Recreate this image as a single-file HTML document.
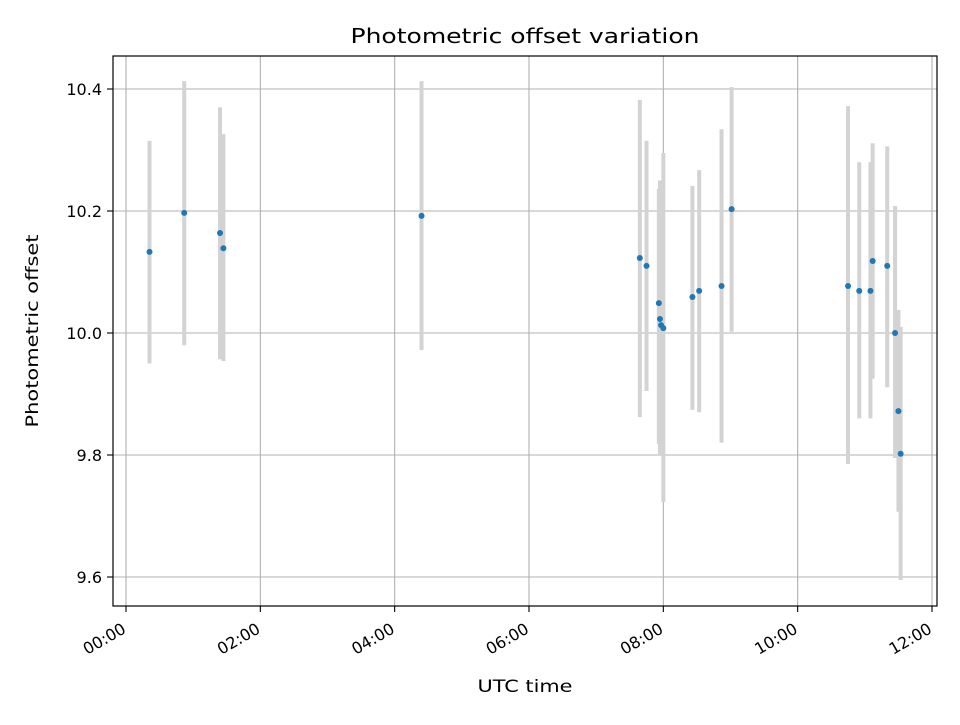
<!DOCTYPE html>
<html><head><meta charset="utf-8"><style>
body{margin:0;background:#fff}
svg text{font-family:"DejaVu Sans","Liberation Sans",sans-serif;fill:#000}
</style></head><body>
<svg id="chart" width="960" height="720" xmlns="http://www.w3.org/2000/svg">
<rect width="960" height="720" fill="#fff"/>
<g id="grid"></g>
<g id="bars"></g>
<g id="points"></g>
<rect x="113" y="56" width="824" height="550" fill="none" stroke="#000" stroke-width="1.2"/>
<g id="axes"></g>
<text x="525" y="43" font-size="20" text-anchor="middle" textLength="349" lengthAdjust="spacingAndGlyphs">Photometric offset variation</text>
<text x="525" y="692" font-size="17" text-anchor="middle" textLength="95" lengthAdjust="spacingAndGlyphs">UTC time</text>
<text transform="translate(38,331) rotate(-90)" font-size="17" text-anchor="middle" textLength="193" lengthAdjust="spacingAndGlyphs">Photometric offset</text>
</svg>
<script>
const timesMin = [21,52,84,87,264,459,465,476,477,478,480,506,512,532,541,645,655,665,667,680,687,690,692];
const offsets = [10.133,10.197,10.164,10.139,10.192,10.123,10.110,10.049,10.023,10.013,10.008,10.059,10.069,10.077,10.203,10.077,10.069,10.069,10.118,10.110,10.000,9.872,9.802];
const upper = [10.315,10.413,10.370,10.326,10.413,10.382,10.315,10.236,10.250,10.220,10.295,10.241,10.267,10.334,10.403,10.372,10.280,10.280,10.311,10.306,10.208,10.038,10.010];
const lower = [9.950,9.980,9.957,9.954,9.972,9.862,9.905,9.818,9.800,9.810,9.723,9.874,9.870,9.820,10.002,9.785,9.860,9.860,9.925,9.911,9.795,9.707,9.595];
const xTicksMin = [0,120,240,360,480,600,720];
const xTickLabels = ["00:00","02:00","04:00","06:00","08:00","10:00","12:00"];
const yTicks = [9.6,9.8,10.0,10.2,10.4];
const yTickLabels = ["9.6","9.8","10.0","10.2","10.4"];

const NS="http://www.w3.org/2000/svg";
function xs(m){return 126 + m*(806/720);}
function ys(v){return 333 - (v-10)*610;}
function mk(tag,attrs,parent){const e=document.createElementNS(NS,tag);for(const k in attrs)e.setAttribute(k,attrs[k]);parent.appendChild(e);return e;}
const grid=document.getElementById('grid'),axes=document.getElementById('axes'),bars=document.getElementById('bars'),pts=document.getElementById('points');
xTicksMin.forEach((m,i)=>{
  const x=xs(m);
  const g=mk('line',{x1:x,x2:x,y1:56,y2:606,stroke:'#b0b0b0','stroke-width':1.1},grid);
  
  
  const t=mk('line',{x1:x,x2:x,y1:606,y2:612,stroke:'#000','stroke-width':1.1},axes);
  
  
  const l=mk('text',{transform:`translate(${x+1},${632}) rotate(-30)`,'font-size':16,'text-anchor':'end'},axes);
  l.textContent=xTickLabels[i];
  
  
});
yTicks.forEach((v,i)=>{
  const y=ys(v);
  const g=mk('line',{x1:113,x2:937,y1:y,y2:y,stroke:'#b0b0b0','stroke-width':1.1},grid);
  
  
  const t=mk('line',{x1:107,x2:113,y1:y,y2:y,stroke:'#000','stroke-width':1.1},axes);
  
  
  const l=mk('text',{x:102,y:y+6,'font-size':16,'text-anchor':'end'},axes);
  l.textContent=yTickLabels[i];
  
  
});
timesMin.forEach((m,i)=>{
  const x=xs(m);
  const b=mk('line',{x1:x,x2:x,y1:ys(upper[i]),y2:ys(lower[i]),stroke:'#d3d3d3','stroke-width':4},bars);
  
  
});
timesMin.forEach((m,i)=>{
  const c=mk('circle',{cx:xs(m),cy:ys(offsets[i]),r:3,fill:'#1f77b4'},pts);
  
  
});
</script>
</body></html>
